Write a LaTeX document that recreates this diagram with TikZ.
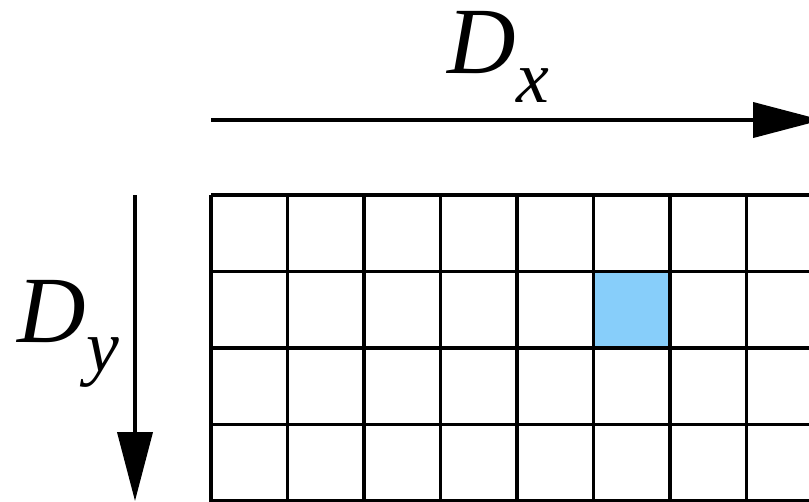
\documentclass[tikz,border=0pt]{standalone}
\usepackage{fontspec}
\setmainfont{Liberation Serif}
\usetikzlibrary{arrows.meta,calc}
\definecolor{cellblue}{HTML}{87CEFA}

\begin{document}
\begin{tikzpicture}[>={Triangle[length=0.69cm,width=0.35cm]}, line width=1.1pt]
		\clip (0,0) rectangle (8.09,5.01);
		\coordinate (G) at (2.11,3.06);   % grid top left
		\coordinate (XS) at (2.11,3.81);  % x arrow start
		\coordinate (XE) at (8.22,3.81);  % x arrow end
		\coordinate (YS) at (1.35,3.06);  % y arrow start
		\coordinate (YE) at (1.35,0.0);   % y arrow end
		\fill[cellblue] (5.935,2.295) rectangle ++(0.765,-0.765);
		\foreach \i in {0,...,8}
			\draw ($(G)+(0.765*\i,0)$) -- ++(0,-3.2);
		\foreach \j in {0,...,4}
			\draw ($(G)+(0,-0.765*\j)$) -- ++(6.2,0);
		\draw[->] (XS) -- (XE);
		\draw[->] (YS) -- (YE);
		\node[anchor=base west, inner sep=0pt] (Dx) at (4.46,4.28) {\fontsize{27}{30}\selectfont\itshape D\raisebox{-8.25pt}{\fontsize{21}{24}\selectfont x}};
		\node[anchor=base west, inner sep=0pt] (Dy) at (0.16,1.59) {\fontsize{27}{30}\selectfont\itshape D\raisebox{-8.25pt}{\fontsize{21}{24}\selectfont y}};
	\end{tikzpicture}
\end{document}
